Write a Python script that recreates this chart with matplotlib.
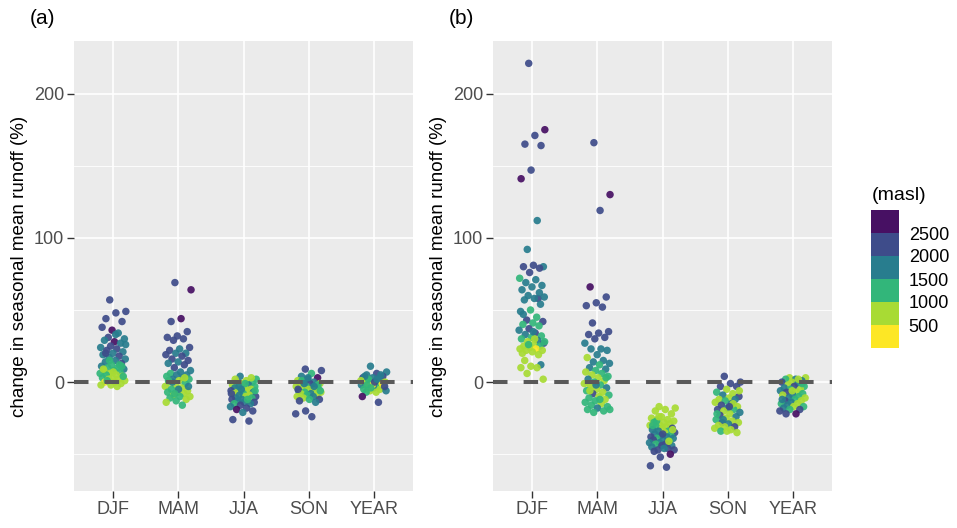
import numpy as np
import matplotlib
matplotlib.use("Agg")
import matplotlib.pyplot as plt
from matplotlib.colors import ListedColormap, BoundaryNorm
import matplotlib.colorbar as mcolorbar

plt.rcParams['font.family'] = ['Liberation Sans', 'DejaVu Sans']

seasons = ['DJF', 'MAM', 'JJA', 'SON', 'YEAR']

# elevation classes (masl) used for colouring
Y, L, G, T, B, P = 300, 750, 1250, 1750, 2250, 2750

# ---- panel (a): change in seasonal mean runoff (%) and catchment elevation
a_djf_val = [57, 49, 48, 44, 42, 36, 38, 34, 31, 30, 28, 29, 27, 25, 24, 23, 22, 21, 20, 19,
             18, 17, 16, 15, 14, 13, 12, 11, 10, 10, 9, 8, 8, 7, 6, 6, 5, 5, 4, 3,
             3, 2, 2, 1, 0, 0, -1, -2, -2, -3, 1, 4, 7, 9, 12, 15, 26, 33, 20, 11]
a_djf_elev = [B, B, B, B, B, P, B, T, B, T, P, T, T, B, T, B, B, T, T, T,
              B, T, T, T, T, B, G, T, G, G, T, G, L, G, L, G, L, G, L, L,
              G, L, L, L, L, Y, L, L, L, L, G, G, L, L, G, G, T, T, B, G]

a_mam_val = [69, 64, 44, 42, 35, 32, 31, 30, 29, 24, 23, 22, 20, 20, 19, 18, 16, 15, 14, 13,
             12, 10, 8, 7, 6, 5, 5, 4, 3, 2, 2, 1, 0, -1, -2, -3, -4, -5, -6, -7,
             -7, -8, -9, -10, -10, -11, -12, -13, -14, -16, 0, -3, -5, 1, 3, -8]
a_mam_elev = [B, P, P, B, B, B, B, B, B, B, T, B, T, T, B, B, B, B, T, T,
              B, B, T, T, G, T, T, G, T, T, G, L, L, G, L, L, L, G, L, L,
              G, L, L, L, G, G, L, G, L, G, T, T, T, G, L, G]

a_jja_val = [4, 2, 1, 0, 0, -1, -2, -2, -3, -3, -4, -4, -5, -5, -6, -6, -7, -7, -8, -8,
             -9, -9, -10, -10, -11, -11, -12, -12, -13, -13, -14, -14, -15, -15, -16, -17, -18, -19, -20, -21,
             -26, -27, -3, -6, -1, 2, 3, -5, -8, -12]
a_jja_elev = [T, G, L, L, G, L, L, T, L, G, L, T, L, G, B, L, L, T, G, L,
              L, T, B, L, T, G, T, B, L, T, B, T, G, T, B, T, B, P, B, T,
              B, B, T, G, G, L, L, T, B, G]

a_son_val = [9, 8, 6, 4, 3, 2, 1, 0, 0, -1, -1, -2, -2, -3, -3, -4, -4, -5, -5, -6,
             -6, -7, -7, -8, -8, -9, -9, -10, -10, -11, -12, -12, -13, -14, -20, -22, -24, 1, -2, 3,
             -5, -3, -1, -6]
a_son_elev = [B, B, G, T, P, T, L, T, G, L, B, L, T, G, L, T, L, G, L, T,
              L, G, L, T, L, L, G, L, T, L, B, G, B, T, B, B, B, G, G, T,
              B, T, T, G]

a_year_val = [11, 7, 6, 5, 4, 3, 3, 2, 1, 0, 0, -1, -1, -2, -2, -3, -3, -4, -4, -5,
              -5, -6, -6, -7, -7, -1, -2, -10, -14, 2, -3, 0, 4, 5, -4, 1, 2, -2]
a_year_elev = [T, T, B, T, B, T, B, T, G, L, T, L, G, L, T, G, L, L, T, G,
               L, L, T, L, G, Y, Y, P, B, G, B, B, T, T, G, L, T, G]

# ---- panel (b)
b_djf_val = [221, 175, 171, 165, 164, 147, 141, 112, 92, 80, 81, 80, 79, 76, 72, 71, 69, 67, 66, 64,
             58, 60, 59, 58, 57, 54, 50, 49, 45, 43, 42, 41, 40, 39, 37, 36, 34, 33, 32, 31,
             30, 29, 28, 27, 26, 25, 25, 24, 23, 23, 22, 22, 21, 20, 19, 26, 28, 30, 15, 12,
             11, 10, 10, 6, 2, 35, 47, 62]
b_djf_elev = [B, P, B, B, B, B, P, T, T, T, B, B, B, B, G, T, T, T, T, T,
              B, T, T, T, T, T, G, T, G, B, B, G, G, G, B, T, B, T, G, G,
              G, T, L, B, L, L, G, L, L, Y, L, L, L, L, L, G, G, L, L, T,
              L, L, L, L, L, T, T, T]

b_mam_val = [166, 130, 119, 66, 59, 55, 53, 52, 41, 35, 34, 33, 31, 30, 27, 23, 23, 22, 19, 17,
             15, 14, 13, 12, 10, 9, 8, 7, 6, 5, 4, 3, 2, 1, 0, -1, -2, -3, -4, -5,
             -6, -7, -8, -9, -10, -11, -12, -13, -14, -15, -16, -17, -18, -19, -20, -21, -19, -12, -6, 3,
             -2]
b_mam_elev = [B, P, B, P, B, B, B, B, B, B, B, B, B, B, T, T, T, T, T, L,
              T, T, T, G, T, T, G, L, G, L, G, L, T, L, G, L, G, L, T, L,
              G, L, B, G, L, G, L, G, G, L, G, G, T, G, G, G, G, G, L, G,
              T]

b_jja_val = [-17, -18, -19, -20, -22, -24, -25, -26, -26, -27, -28, -28, -29, -30, -30, -31, -31, -32, -32, -33,
             -34, -34, -35, -35, -36, -37, -37, -38, -38, -39, -39, -40, -40, -41, -42, -42, -43, -43, -44, -44,
             -45, -46, -47, -47, -46, -48, -50, -52, -58, -59, -27, -33, -36, -30, -41, -24]
b_jja_elev = [L, L, L, L, L, L, L, L, L, L, L, G, L, L, L, L, G, B, L, T,
              G, T, B, L, T, G, T, B, T, G, T, T, B, G, T, T, B, G, T, B,
              T, B, B, B, T, B, P, B, B, B, G, L, B, G, L, L]

b_son_val = [4, 0, -1, -3, -3, -5, -7, -8, -9, -10, -11, -12, -12, -13, -14, -15, -16, -17, -18, -19,
             -19, -20, -21, -22, -23, -24, -25, -26, -27, -28, -28, -29, -30, -31, -31, -32, -33, -34, -35, -34,
             -22, -15, -26, -6, -17]
b_son_elev = [B, B, B, B, B, L, G, L, T, B, L, L, T, G, L, T, B, L, T, B,
              G, L, T, L, B, T, L, G, L, B, L, T, L, B, L, L, L, G, L, L,
              G, L, T, L, B]

b_year_val = [3, 3, 2, 2, 1, 0, 0, -1, -2, -3, -3, -4, -5, -5, -6, -7, -7, -8, -9, -9,
              -10, -11, -11, -12, -13, -13, -14, -15, -15, -16, -17, -17, -18, -19, -19, -20, -22, -22, -1, -6,
              -12, 2]
b_year_elev = [L, L, T, G, T, L, B, T, L, G, B, T, L, G, T, L, B, G, T, L,
               G, T, L, G, B, L, T, G, L, T, G, L, T, B, G, B, P, B, G, L,
               T, L]

panel_a = [(a_djf_val, a_djf_elev), (a_mam_val, a_mam_elev), (a_jja_val, a_jja_elev),
           (a_son_val, a_son_elev), (a_year_val, a_year_elev)]
panel_b = [(b_djf_val, b_djf_elev), (b_mam_val, b_mam_elev), (b_jja_val, b_jja_elev),
           (b_son_val, b_son_elev), (b_year_val, b_year_elev)]

# binned viridis scale
bounds = [0, 500, 1000, 1500, 2000, 2500, 3000]
cols = plt.cm.viridis([1.0, 0.87, 0.66, 0.42, 0.23, 0.04])
cmap = ListedColormap(cols)
norm = BoundaryNorm(bounds, cmap.N)

W, H = 957, 528
fig = plt.figure(figsize=(W / 100, H / 100), dpi=100)


def jitter(n, width=0.2):
    # deterministic spread in place of random jitter
    k = np.arange(n)
    return ((k * 0.6180339887 + 0.37) % 1 - 0.5) * 2 * width


def panel(left, data, tag):
    ax = fig.add_axes([left / W, 1 - 491 / H, 339 / W, 450 / H])
    ax.set_facecolor('#EBEBEB')
    for s in ax.spines.values():
        s.set_visible(False)
    ax.set_xlim(0.4, 5.6)
    ax.set_ylim(-75.5, 236.5)
    ax.set_yticks([0, 100, 200])
    ax.set_yticks([-50, 50, 150], minor=True)
    ax.set_xticks(range(1, 6))
    ax.set_xticklabels(seasons)
    ax.grid(True, which='major', color='white', lw=1.2)
    ax.grid(True, which='minor', axis='y', color='white', lw=0.6)
    ax.set_axisbelow(True)
    ax.tick_params(which='major', length=5, width=1, color='#333333',
                   labelcolor='#4D4D4D', labelsize=13, pad=2)
    ax.tick_params(which='minor', length=0)
    for i, (vals, elev) in enumerate(data):
        x = i + 1 + jitter(len(vals))
        ax.scatter(x, vals, c=elev, cmap=cmap, norm=norm, s=29, linewidths=0,
                   alpha=0.92, zorder=2)
    ax.axhline(0, color='#595959', lw=2.9, dashes=(3.6, 4.0), zorder=3)
    ax.set_ylabel('change in seasonal mean runoff (%)', fontsize=13.5, color='black', labelpad=4)
    fig.text((left - 44) / W, 1 - 19 / H, tag, fontsize=15, ha='left', va='center')
    return ax


panel(74, panel_a, '(a)')
panel(493, panel_b, '(b)')

# legend
cax = fig.add_axes([871 / W, 1 - 348 / H, 28 / W, 138 / H])
cb = mcolorbar.ColorbarBase(cax, cmap=cmap, norm=norm, boundaries=bounds,
                            ticks=[500, 1000, 1500, 2000, 2500], spacing='uniform')
cb.outline.set_visible(False)
cax.minorticks_off()
cax.tick_params(which='both', length=0, labelsize=13, pad=7, labelcolor='black')
fig.text(872 / W, 1 - 195 / H, '(masl)', fontsize=14, ha='left', va='center')

fig.savefig('out.png', dpi=100)
